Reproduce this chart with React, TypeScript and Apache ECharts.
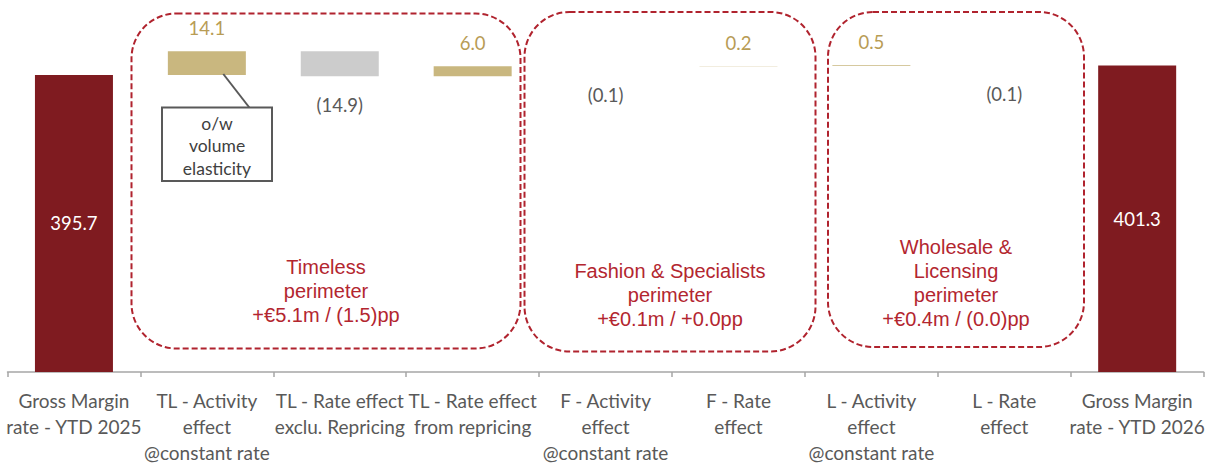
import React, { useEffect, useRef } from "react";
import * as echarts from "echarts";

const categories = [
  "Gross Margin\nrate - YTD 2025",
  "TL - Activity\neffect\n@constant rate",
  "TL - Rate effect\nexclu. Repricing",
  "TL - Rate effect\nfrom repricing",
  "F - Activity\neffect\n@constant rate",
  "F - Rate\neffect",
  "L - Activity\neffect\n@constant rate",
  "L - Rate\neffect",
  "Gross Margin\nrate - YTD 2026",
];
const startValue = 395.7;
const endValue = 401.3;
const deltas = [14.1, -14.9, 6.0, -0.1, 0.2, 0.5, -0.1];

const groupBoxes = [
  { text: "Timeless\nperimeter\n+€5.1m / (1.5)pp" },
  { text: "Fashion & Specialists\nperimeter\n+€0.1m / +0.0pp" },
  { text: "Wholesale &\nLicensing\nperimeter\n+€0.4m / (0.0)pp" },
];
const calloutText = "o/w\nvolume\nelasticity";

const DARK_RED = "#7F1B20";
const GOLD = "#C9B77F";
const GOLD_TEXT = "#B89C55";
const GREY = "#CCCCCC";
const LABEL_GREY = "#595959";
const BOX_RED = "#B0232E";

function fmt(v: number): string {
  const s = Math.abs(v).toFixed(1);
  return v < 0 ? `(${s})` : s;
}

export default function App() {
  const ref = useRef<HTMLDivElement>(null);
  useEffect(() => {
    if (!ref.current) return;
    const chart = echarts.init(ref.current, null, { renderer: "svg" });

    // build waterfall bases
    const bases: number[] = [0];
    const heights: number[] = [startValue];
    let running = startValue;
    deltas.forEach((d) => {
      const next = running + d;
      bases.push(Math.min(running, next));
      heights.push(Math.abs(d));
      running = next;
    });
    bases.push(0);
    heights.push(endValue);

    const valueData = heights.map((h, i) => {
      if (i === 0 || i === heights.length - 1) {
        return {
          value: h,
          itemStyle: { color: DARK_RED },
          label: {
            show: true,
            position: "inside",
            color: "#FFFFFF",
            formatter: fmt(h),
          },
        };
      }
      const d = deltas[i - 1];
      return {
        value: h,
        itemStyle: { color: d >= 0 ? GOLD : GREY },
        label: {
          show: true,
          position: d >= 0 ? "top" : "bottom",
          distance: d >= 0 ? 12 : 18,
          color: d >= 0 ? GOLD_TEXT : LABEL_GREY,
          formatter: fmt(d),
        },
      };
    });

    const font = "Lato, 'Open Sans', sans-serif";
    const boxFont = "'Liberation Sans', Arial, sans-serif";

    const boxGeom = [
      { x: 131.5, y: 13.5, w: 389, h: 335, cy: 291 },
      { x: 524.5, y: 12, w: 291, h: 339.5, cy: 295 },
      { x: 828, y: 12, w: 256, h: 335, cy: 282.5 },
    ];

    const graphics: any[] = [];
    boxGeom.forEach((b, i) => {
      graphics.push({
        type: "rect",
        z: 100,
        shape: { x: b.x, y: b.y, width: b.w, height: b.h, r: 45 },
        style: { fill: "none", stroke: BOX_RED, lineWidth: 2, lineDash: [6, 3] },
        silent: true,
      });
      graphics.push({
        type: "text",
        z: 100,
        x: b.x + b.w / 2,
        y: b.cy,
        style: {
          text: groupBoxes[i].text,
          align: "center",
          verticalAlign: "middle",
          fontSize: 20,
          lineHeight: 24,
          fontFamily: boxFont,
          fill: "#B3262F",
        },
        silent: true,
      });
    });
    graphics.push({
      type: "line",
      z: 100,
      shape: { x1: 223.3, y1: 74, x2: 249.3, y2: 107.5 },
      style: { stroke: "#595959", lineWidth: 2 },
      silent: true,
    });
    graphics.push({
      type: "rect",
      z: 100,
      shape: { x: 162, y: 107.5, width: 110, height: 73.5 },
      style: { fill: "#FFFFFF", stroke: "#595959", lineWidth: 2 },
      silent: true,
    });
    graphics.push({
      type: "text",
      z: 101,
      x: 217,
      y: 145.5,
      style: {
        text: calloutText,
        align: "center",
        verticalAlign: "middle",
        fontSize: 17.5,
        lineHeight: 22.5,
        fontFamily: font,
        fill: "#404040",
      },
      silent: true,
    });

    chart.setOption({
      animation: false,
      grid: { left: 7.5, right: 0, top: 17, bottom: 87, containLabel: false },
      xAxis: {
        type: "category",
        data: categories,
        axisLine: { show: true, lineStyle: { color: "#A6A6A6", width: 1.5 } },
        axisTick: { show: true, length: 5, lineStyle: { color: "#A6A6A6", width: 1.5 } },
        axisLabel: {
          interval: 0,
          color: LABEL_GREY,
          fontFamily: font,
          fontSize: 19,
          lineHeight: 25.7,
          margin: 16,
        },
      },
      yAxis: {
        type: "value",
        min: 220,
        max: 430,
        show: false,
        splitLine: { show: false },
      },
      series: [
        {
          type: "bar",
          stack: "wf",
          barWidth: 78,
          silent: true,
          itemStyle: { color: "transparent" },
          data: bases,
        },
        {
          type: "bar",
          stack: "wf",
          barWidth: 78,
          label: { fontFamily: font, fontSize: 18.5, lineHeight: 22 },
          data: valueData,
        },
      ],
      graphic: { elements: graphics },
    });
    return () => chart.dispose();
  }, []);
  return (
    <div
      ref={ref}
      style={{ position: "fixed", left: 0, top: 0, width: 1208, height: 465, background: "#fff" }}
    />
  );
}
